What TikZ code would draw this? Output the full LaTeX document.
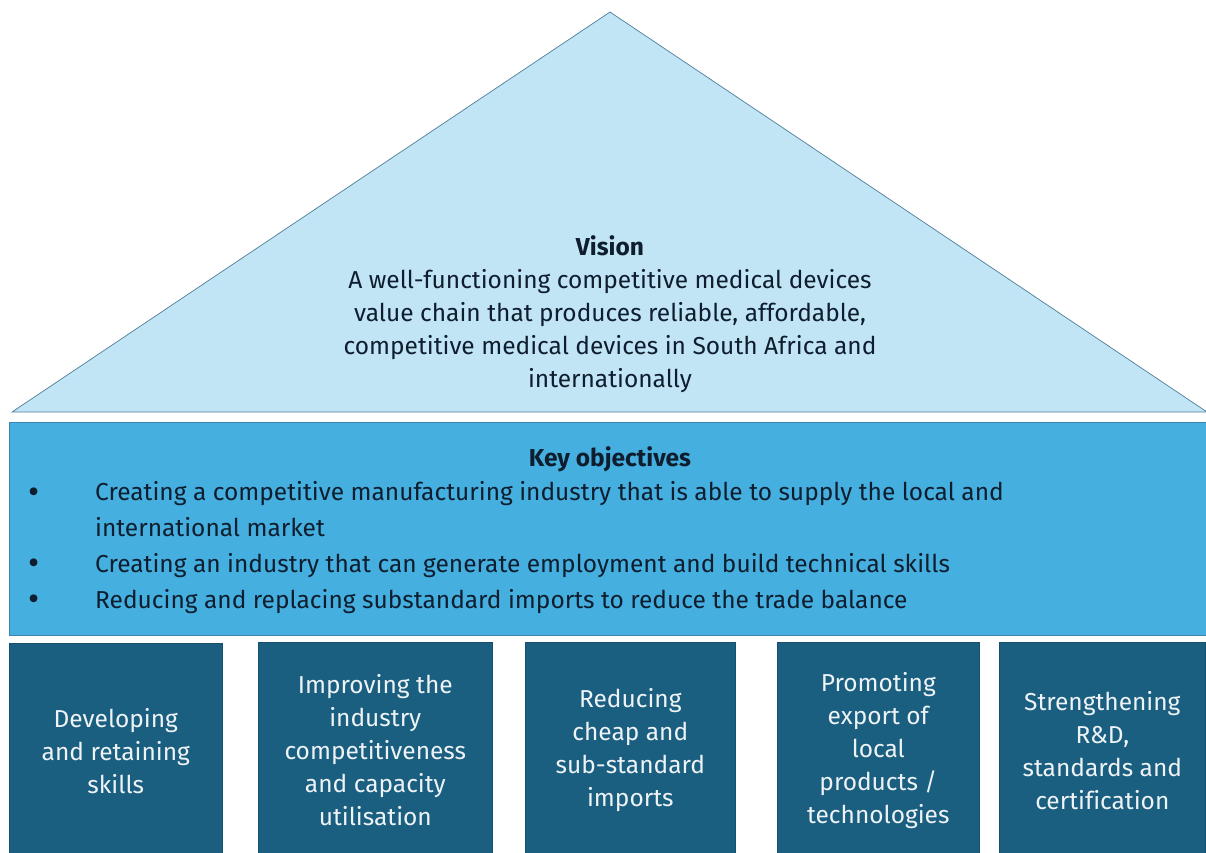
\documentclass[tikz,border=0pt]{standalone}
\usepackage{fontspec}
\setmainfont{Fira Sans}[Ligatures=NoCommon]
\definecolor{roofFill}{HTML}{C2E5F6}
\definecolor{roofLine}{HTML}{4E7E98}
\definecolor{bandFill}{HTML}{45AFE0}
\definecolor{bandLine}{HTML}{3C86AE}
\definecolor{pillarFill}{HTML}{1A5E80}
\definecolor{inkDark}{HTML}{0E1E2E}
\definecolor{inkLight}{HTML}{EEF3F6}
\newcommand{\bulletmark}{\makebox[68pt][l]{\hspace*{1pt}\raisebox{-2.6pt}{\scalebox{1.4}{•}}}}
\begin{document}
\begin{tikzpicture}[x=1pt,y=-1pt,
  bodytext/.style={font=\fontsize{24.5}{33}\selectfont, text=inkDark, inner sep=0pt},
  pillar/.style={fill=pillarFill, draw=pillarFill!85!black, line width=0.6pt,
    anchor=north west, minimum height=216pt, align=center, inner sep=0pt,
    text=inkLight, font=\fontsize{24.5}{33}\selectfont}]
  \useasboundingbox (0,0) rectangle (1206,852);
  \clip (0,0) rectangle (1206,852);
  \fill[white] (0,0) rectangle (1206,852);

  % roof
  \coordinate (apex) at (610,12);
  \coordinate (eaveL) at (12,412);
  \coordinate (eaveR) at (1207,412);
  \draw[fill=roofFill, draw=roofLine, line width=0.7pt, line join=miter]
    (eaveL) -- (apex) -- (eaveR) -- cycle;
  \node[bodytext, align=center] (vision) at (610,314)
    {\textbf{Vision}\\
     A well-functioning competitive medical devices\\
     value chain that produces reliable, affordable,\\
     competitive medical devices in South Africa and\\
     internationally};

  % objectives band
  \node[fill=bandFill, draw=bandLine, line width=0.7pt, anchor=north west,
        minimum width=1200pt, minimum height=213pt, inner sep=0pt] (band) at (9,422) {};
  \node[bodytext, font=\fontsize{24.5}{33}\selectfont\bfseries] (keyhead) at (610,459) {Key objectives};
  \node[bodytext, align=left, anchor=west,
        font=\fontsize{24.5}{35.7}\selectfont] (objectives) at (27,547.5)
    {\bulletmark Creating a competitive manufacturing industry that is able to supply the local and\\
     \hspace*{68pt}international market\\
     \bulletmark Creating an industry that can generate employment and build technical skills\\
     \bulletmark Reducing and replacing substandard imports to reduce the trade balance};

  % pillars
  \node[pillar, minimum width=213pt] (p1) at (9,643) {Developing\\and retaining\\skills};
  \node[pillar, minimum width=234pt] (p2) at (258,642) {Improving the\\industry\\competitiveness\\and capacity\\utilisation};
  \node[pillar, minimum width=210pt] (p3) at (525,642) {Reducing\\cheap and\\sub-standard\\imports};
  \node[pillar, minimum width=202pt] (p4) at (777,642) {Promoting\\export of\\local\\products /\\technologies};
  \node[pillar, minimum width=206pt] (p5) at (999,642) {Strengthening\\R\&D,\\standards and\\certification};
\end{tikzpicture}
\end{document}
